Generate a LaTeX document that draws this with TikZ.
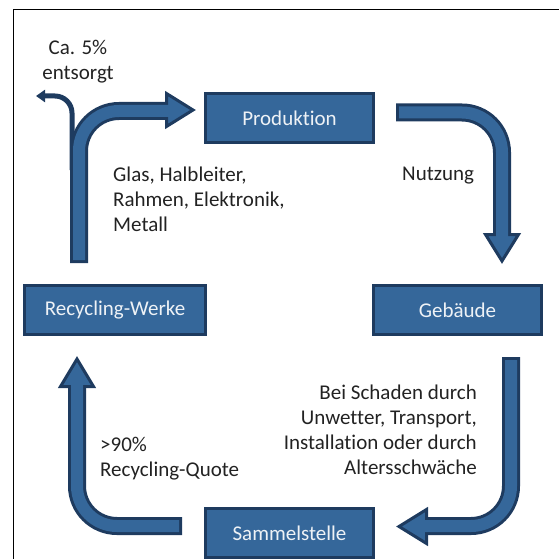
\documentclass[tikz,border=0pt]{standalone}
\usepackage{fontspec}
\setmainfont{Carlito}[Ligatures = NoCommon]
\usetikzlibrary{arrows.meta}

\definecolor{boxblue}{HTML}{35679A}
\definecolor{boxline}{HTML}{1E3B5F}
\definecolor{boxtext}{HTML}{EEF2F6}
\definecolor{labeltext}{HTML}{222222}

\tikzset{
    station/.style = {draw = boxline, fill = boxblue, line width = 3pt,
        text = boxtext, minimum width = 168pt, minimum height = 49pt,
        inner sep = 0pt, font = \fontsize{21}{25}\selectfont},
    shaftline/.style = {draw = boxline, line width = 18pt, rounded corners = 40pt},
    shaftcore/.style = {draw = boxblue, line width = 12pt, rounded corners = 40pt},
    headtip/.style = {draw = boxline, fill = boxblue, line width = 3pt, line join = miter},
    caption/.style = {text = labeltext, inner sep = 0pt,
        font = \fontsize{21}{25}\selectfont}
}

\begin{document}
\begin{tikzpicture}[x = 1pt, y = -1pt]
        \useasboundingbox (0, 0) rectangle (559, 559);

        % Frame.
        \draw[line width = 1pt] (13, 559) -- (13, 10) -- (559, 10);

        % The four stations of the cycle.
        \node[station] (prod)     at (289.5, 118) {Produktion};
        \node[station] (gebaeude) at (457.5, 310) {Gebäude};
        \node[station, minimum width = 181pt] (werke) at (115, 310) {Recycling-Werke};
        \node[station] (sammel)   at (289.5, 533) {Sammelstelle};

        % Small arrow: disposed part.
        \draw[draw = boxline, line width = 5pt, rounded corners = 17pt,
            -{Triangle[length = 9pt, width = 12pt]}]
            (72, 170) -- (72, 96) -- (36, 96);

        % Recycling-Werke to Produktion.
        \draw[shaftline] (79, 263) -- (79, 111) -- (166, 111);
        \draw[headtip] (166.5, 93.5) -- (166.5, 126.5) -- (193, 110) -- cycle;
        \draw[shaftcore] (79, 260) -- (79, 111) -- (170, 111);

        % Produktion to Gebaeude.
        \draw[shaftline] (396, 112.5) -- (502, 112.5) -- (502, 234);
        \draw[headtip] (485.5, 234.5) -- (518.5, 234.5) -- (502, 261) -- cycle;
        \draw[shaftcore] (399, 112.5) -- (502, 112.5) -- (502, 238);

        % Gebaeude to Sammelstelle.
        \draw[shaftline] (511, 357) -- (511, 526) -- (427, 526);
        \draw[headtip] (426.5, 509.5) -- (426.5, 543.5) -- (399, 526.5) -- cycle;
        \draw[shaftcore] (511, 360) -- (511, 526) -- (423, 526);

        % Sammelstelle to Recycling-Werke.
        \draw[shaftline] (182, 526) -- (77, 526) -- (77, 386);
        \draw[headtip] (60.5, 386.5) -- (93.5, 386.5) -- (77, 359) -- cycle;
        \draw[shaftcore] (179, 526) -- (77, 526) -- (77, 382);

        % Labels.
        \node[caption, anchor = north, align = center] (disposed) at (78, 40)
            {Ca. 5\%\\entsorgt};
        \node[caption, anchor = north west, align = left] (materials) at (113, 167)
            {Glas, Halbleiter,\\Rahmen, Elektronik,\\Metall};
        \node[caption, anchor = north west] (usage) at (402, 167) {Nutzung};
        \node[caption, anchor = north east, align = right] (damage) at (477, 385)
            {Bei Schaden durch\\Unwetter, Transport,\\Installation oder durch\\Altersschwäche};
        \node[caption, anchor = north west, align = left] (quota) at (100, 437)
            {>90\%\\Recycling-Quote};
    \end{tikzpicture}
\end{document}
